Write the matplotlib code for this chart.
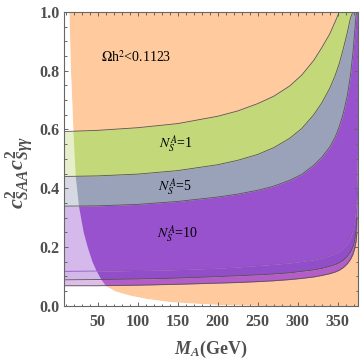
import numpy as np
import matplotlib
matplotlib.use("Agg")
from matplotlib import pyplot as plt

# Mass grid (GeV) shared by all band curves
mass = [8, 50, 100, 150, 200, 225, 250, 270, 290, 305, 320, 330, 340, 347, 352, 357, 362, 366, 369, 371, 373, 374, 375]

# Upper edges of the N_S^A bands
upper_n1 = [0.593, 0.597, 0.606, 0.620, 0.645, 0.663, 0.688, 0.713, 0.748, 0.785, 0.835, 0.878, 0.925, 0.968, 1.0,
            1.0, 1.0, 1.0, 1.0, 1.0, 1.0, 1.0, 1.0]
upper_n5 = [0.440, 0.442, 0.448, 0.460, 0.480, 0.495, 0.515, 0.538, 0.570, 0.603, 0.650, 0.690, 0.740, 0.785, 0.825,
            0.875, 0.930, 0.980, 1.0, 1.0, 1.0, 1.0, 1.0]
upper_n10 = [0.339, 0.340, 0.345, 0.355, 0.370, 0.380, 0.393, 0.407, 0.427, 0.447, 0.478, 0.505, 0.540, 0.575, 0.610,
             0.655, 0.715, 0.785, 0.860, 0.925, 0.990, 1.0, 1.0]

# Lower edges (bottom of bands)
lower_faint = [0.117, 0.118, 0.120, 0.123, 0.128, 0.132, 0.137, 0.141, 0.146, 0.151, 0.157, 0.163, 0.171, 0.179, 0.186,
               0.196, 0.212, 0.232, 0.260, 0.290, 0.350, 0.420, 0.550]
lower_dark = [0.088, 0.089, 0.091, 0.094, 0.099, 0.102, 0.105, 0.108, 0.112, 0.117, 0.122, 0.127, 0.134, 0.140, 0.146,
              0.155, 0.168, 0.183, 0.200, 0.220, 0.255, 0.300, 0.400]
lower_bottom = [0.068, 0.068, 0.070, 0.073, 0.077, 0.079, 0.082, 0.085, 0.089, 0.093, 0.098, 0.103, 0.109, 0.115, 0.121,
                0.130, 0.143, 0.158, 0.175, 0.192, 0.220, 0.250, 0.320]

# Relic density boundary (Omega h^2 < 0.1123 to the right of it)
relic_y = [1.0, 0.8, 0.6, 0.44, 0.34, 0.25, 0.2, 0.15, 0.12, 0.09, 0.068, 0.05, 0.036, 0.025, 0.014, 0.008, 0.003, 0.001]
relic_m = [14, 16, 19, 22, 26, 32, 37, 43, 48, 54, 60, 72, 90, 110, 140, 175, 210, 260]

x_ticks = [50, 100, 150, 200, 250, 300, 350]
y_ticks = [0.0, 0.2, 0.4, 0.6, 0.8, 1.0]

orange = "#FECA9E"
green = "#C2D879"
grey = "#9AA2BA"
purple = "#9852CE"
purple2 = "#924DC8"
magenta = "#B45DC8"
edge = "#555555"
axis_grey = "#666666"
label_grey = "#4F4F4F"

plt.rcParams["mathtext.fontset"] = "custom"
plt.rcParams["mathtext.rm"] = "Liberation Serif:bold"
plt.rcParams["mathtext.it"] = "Liberation Serif:italic:bold"
plt.rcParams["mathtext.bf"] = "Liberation Serif:bold"

fig = plt.figure(figsize=(3.6, 3.62), dpi=100)
ax = fig.add_axes([0.178, 0.1555, 0.8156, 0.8114])

m = np.array(mass)
ax.fill_betweenx(relic_y, relic_m, 375, color=orange, lw=0)

ax.fill_between(m, upper_n5, upper_n1, color=green, lw=0)
ax.fill_between(m, upper_n10, upper_n5, color=grey, lw=0)
ax.fill_between(m, lower_faint, upper_n10, color=purple, lw=0)
ax.fill_between(m, lower_dark, lower_faint, color=purple2, lw=0)
ax.fill_between(m, lower_bottom, lower_dark, color=magenta, lw=0)

# lighter tint where the relic density is too large
ax.fill_betweenx(relic_y, 8, relic_m, color="white", alpha=0.6, lw=0)

for curve in [upper_n1, upper_n5, upper_n10, lower_dark, lower_bottom]:
    ax.plot(m[:-1], curve[:-1], color=edge, lw=0.6)
ax.plot(m[:-1], lower_faint[:-1], color="#8A55C0", lw=0.6)

ax.text(98, 0.847, r"$\Omega$h$^2$<0.1123", family="Liberation Serif", fontsize=10,
        math_fontfamily="stix", ha="center", va="center")
ax.text(147, 0.547, r"$N_S^A$=1", family="Liberation Serif", fontsize=10,
        math_fontfamily="stix", ha="center", va="center")
ax.text(147, 0.40, r"$N_S^A$=5", family="Liberation Serif", fontsize=10,
        math_fontfamily="stix", ha="center", va="center")
ax.text(149, 0.24, r"$N_S^A$=10", family="Liberation Serif", fontsize=10,
        math_fontfamily="stix", ha="center", va="center")

ax.set_xlim(8, 375)
ax.set_ylim(0, 1)
ax.set_xticks(x_ticks)
ax.set_yticks(y_ticks)
ax.set_xticks(np.arange(10, 375, 10), minor=True)
ax.set_yticks(np.arange(0, 1.0001, 0.05), minor=True)
ax.set_yticklabels(["%.1f" % v for v in y_ticks])
ax.tick_params(which="both", direction="in", top=True, right=True, colors=axis_grey,
               labelcolor=label_grey, width=0.7)
ax.tick_params(which="major", length=3.2)
ax.tick_params(which="minor", length=1.8)
ax.tick_params(axis="x", pad=6)
ax.tick_params(axis="y", pad=3)
for lab in ax.get_xticklabels() + ax.get_yticklabels():
    lab.set_family("Liberation Serif")
    lab.set_fontweight("bold")
    lab.set_fontsize(11.5)
for s in ax.spines.values():
    s.set_color(axis_grey)
    s.set_linewidth(0.8)

ax.set_xlabel(r"$M_A$(GeV)", family="Liberation Serif", fontweight="bold", fontsize=13,
              color=label_grey, va="center")
ax.set_ylabel(r"$c^2_{SAA}c^2_{S\gamma\gamma}$", family="Liberation Serif", fontweight="bold",
              fontsize=16, color=label_grey, va="center")
ax.xaxis.set_label_coords(0.5, -0.15)
ax.yaxis.set_label_coords(-0.15, 0.455)

fig.savefig("out.png", dpi=100)
